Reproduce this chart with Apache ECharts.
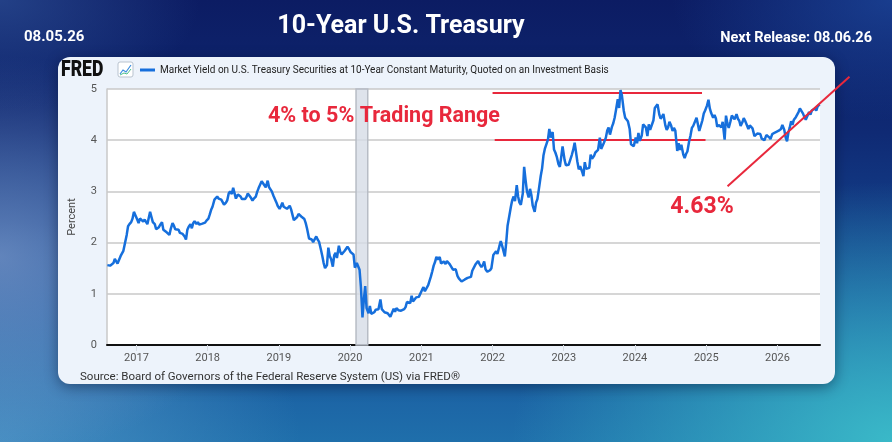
<!DOCTYPE html>
<html>
<head>
<meta charset="utf-8">
<script src="https://cdn.jsdelivr.net/npm/echarts@6/dist/echarts.min.js"></script>
<style>
    html, body { margin: 0; padding: 0; }
    body {
        width: 892px; height: 442px; overflow: hidden;
        background:
            radial-gradient(ellipse 200px 110px at 0% 0%, rgba(45,80,150,0.7), rgba(45,80,150,0)),
            radial-gradient(ellipse 220px 120px at 100% 0%, rgba(30,75,160,0.7), rgba(30,75,160,0)),
            radial-gradient(ellipse 260px 200px at 0% 58%, rgba(120,150,200,0.75), rgba(120,150,200,0)),
            radial-gradient(ellipse 380px 260px at 100% 100%, #3ab9c8, rgba(58,185,200,0)),
            radial-gradient(ellipse 300px 220px at 0% 100%, rgba(80,150,200,0.8), rgba(80,150,200,0)),
            linear-gradient(180deg, #0c1c63 0%, #0f2a74 30%, #17509a 70%, #1f6fab 100%);
    }
    #chart { width: 892px; height: 442px; }
</style>
</head>
<body>
<div id="chart"></div>
<script>
    // 10-year treasury, weekly readings (days 5/12/19/26 of each month)
    var months = ['2016-08', '2016-09', '2016-10', '2016-11', '2016-12',
        '2017-01', '2017-02', '2017-03', '2017-04', '2017-05', '2017-06', '2017-07', '2017-08', '2017-09', '2017-10', '2017-11', '2017-12',
        '2018-01', '2018-02', '2018-03', '2018-04', '2018-05', '2018-06', '2018-07', '2018-08', '2018-09', '2018-10', '2018-11', '2018-12',
        '2019-01', '2019-02', '2019-03', '2019-04', '2019-05', '2019-06', '2019-07', '2019-08', '2019-09', '2019-10', '2019-11', '2019-12',
        '2020-01', '2020-02', '2020-03', '2020-04', '2020-05', '2020-06', '2020-07', '2020-08', '2020-09', '2020-10', '2020-11', '2020-12',
        '2021-01', '2021-02', '2021-03', '2021-04', '2021-05', '2021-06', '2021-07', '2021-08', '2021-09', '2021-10', '2021-11', '2021-12',
        '2022-01', '2022-02', '2022-03', '2022-04', '2022-05', '2022-06', '2022-07', '2022-08', '2022-09', '2022-10', '2022-11', '2022-12',
        '2023-01', '2023-02', '2023-03', '2023-04', '2023-05', '2023-06', '2023-07', '2023-08', '2023-09', '2023-10', '2023-11', '2023-12',
        '2024-01', '2024-02', '2024-03', '2024-04', '2024-05', '2024-06', '2024-07', '2024-08', '2024-09', '2024-10', '2024-11', '2024-12',
        '2025-01', '2025-02', '2025-03', '2025-04', '2025-05', '2025-06', '2025-07', '2025-08', '2025-09', '2025-10', '2025-11', '2025-12',
        '2026-01', '2026-02', '2026-03', '2026-04', '2026-05', '2026-06', '2026-07', '2026-08'];
    var weekDays = [5, 12, 19, 26];
    var yields = [
        [1.56, 1.54, 1.55, 1.58], [1.60, 1.68, 1.69, 1.59], [1.61, 1.74, 1.76, 1.84], [1.83, 2.15, 2.32, 2.36], [2.40, 2.47, 2.60, 2.54],
        [2.45, 2.38, 2.47, 2.49], [2.41, 2.45, 2.42, 2.36], [2.48, 2.60, 2.50, 2.40], [2.36, 2.26, 2.24, 2.30], [2.36, 2.40, 2.25, 2.25], [2.20, 2.17, 2.15, 2.27],
        [2.38, 2.33, 2.26, 2.29], [2.25, 2.19, 2.20, 2.17], [2.12, 2.06, 2.25, 2.31], [2.36, 2.28, 2.38, 2.42], [2.36, 2.40, 2.35, 2.38], [2.37, 2.40, 2.39, 2.43],
        [2.47, 2.55, 2.64, 2.70], [2.84, 2.86, 2.90, 2.86], [2.86, 2.84, 2.83, 2.74], [2.78, 2.83, 2.96, 3.00], [2.95, 3.07, 3.06, 2.86], [2.94, 2.92, 2.90, 2.85],
        [2.83, 2.85, 2.89, 2.96], [2.95, 2.87, 2.82, 2.86], [2.90, 2.99, 3.06, 3.06], [3.20, 3.16, 3.17, 3.08], [3.21, 3.08, 3.06, 3.00], [2.91, 2.89, 2.79, 2.72],
        [2.66, 2.71, 2.78, 2.70], [2.72, 2.66, 2.65, 2.72], [2.65, 2.62, 2.44, 2.41], [2.50, 2.56, 2.56, 2.51], [2.53, 2.46, 2.38, 2.27], [2.08, 2.09, 2.06, 2.01],
        [2.04, 2.12, 2.06, 2.02], [1.86, 1.74, 1.60, 1.50], [1.56, 1.90, 1.74, 1.68], [1.53, 1.75, 1.80, 1.70], [1.94, 1.82, 1.77, 1.78], [1.84, 1.82, 1.92, 1.88],
        [1.81, 1.84, 1.77, 1.51], [1.60, 1.59, 1.47, 1.13], [0.54, 0.88, 1.15, 0.72], [0.62, 0.76, 0.61, 0.64], [0.64, 0.69, 0.68, 0.70], [0.89, 0.70, 0.69, 0.64],
        [0.67, 0.62, 0.59, 0.55], [0.56, 0.71, 0.65, 0.72], [0.68, 0.67, 0.67, 0.68], [0.70, 0.74, 0.84, 0.83], [0.82, 0.96, 0.85, 0.88], [0.93, 0.91, 0.94, 0.93],
        [1.08, 1.13, 1.05, 1.07], [1.17, 1.20, 1.34, 1.44], [1.55, 1.62, 1.72, 1.67], [1.72, 1.59, 1.56, 1.63], [1.58, 1.64, 1.63, 1.58], [1.55, 1.47, 1.44, 1.48],
        [1.35, 1.30, 1.28, 1.24], [1.22, 1.28, 1.25, 1.31], [1.34, 1.33, 1.45, 1.48], [1.57, 1.59, 1.64, 1.58], [1.52, 1.56, 1.63, 1.48], [1.43, 1.43, 1.46, 1.50],
        [1.76, 1.74, 1.83, 1.78], [1.93, 2.03, 1.94, 1.96], [1.73, 2.00, 2.33, 2.48], [2.70, 2.83, 2.90, 2.81], [3.12, 2.90, 2.78, 2.74], [2.96, 3.48, 3.23, 3.01],
        [2.88, 3.05, 2.93, 2.72], [2.60, 2.78, 2.85, 3.03], [3.30, 3.45, 3.70, 3.83], [3.83, 4.01, 4.22, 4.05], [4.16, 3.82, 3.76, 3.68], [3.53, 3.48, 3.67, 3.88],
        [3.62, 3.51, 3.48, 3.52], [3.53, 3.72, 3.82, 3.95], [3.97, 3.58, 3.43, 3.49], [3.39, 3.30, 3.57, 3.44], [3.45, 3.46, 3.72, 3.64], [3.69, 3.76, 3.74, 3.81],
        [4.05, 3.83, 3.84, 3.95], [4.05, 4.19, 4.25, 4.11], [4.26, 4.33, 4.44, 4.59], [4.80, 4.63, 4.98, 4.88], [4.57, 4.44, 4.41, 4.37], [4.22, 3.92, 3.90, 3.88],
        [4.05, 3.94, 4.14, 3.99], [4.09, 4.31, 4.28, 4.25], [4.08, 4.31, 4.20, 4.20], [4.39, 4.63, 4.62, 4.70], [4.50, 4.42, 4.46, 4.51], [4.29, 4.20, 4.25, 4.36],
        [4.28, 4.18, 4.24, 4.19], [3.79, 3.94, 3.81, 3.91], [3.72, 3.65, 3.73, 3.78], [3.98, 4.09, 4.24, 4.28], [4.30, 4.44, 4.41, 4.18], [4.19, 4.39, 4.52, 4.58],
        [4.68, 4.79, 4.62, 4.53], [4.44, 4.49, 4.43, 4.26], [4.30, 4.31, 4.25, 4.36], [4.01, 4.48, 4.33, 4.24], [4.37, 4.48, 4.51, 4.41], [4.51, 4.42, 4.38, 4.28],
        [4.35, 4.43, 4.38, 4.37], [4.22, 4.29, 4.26, 4.23], [4.08, 4.06, 4.13, 4.16], [4.12, 4.03, 4.00, 4.00], [4.10, 4.10, 4.06, 4.02], [4.12, 4.15, 4.15, 4.18],
        [4.18, 4.17, 4.22, 4.30], [4.20, 4.05, 3.98, 4.15], [4.25, 4.37, 4.30, 4.40], [4.45, 4.50, 4.55, 4.62], [4.64, 4.52, 4.45, 4.40], [4.42, 4.55, 4.50, 4.58],
        [4.60, 4.62, 4.58, 4.66], [4.70]
    ];
    var yearTicks = ['2017-01-01', '2018-01-01', '2019-01-01', '2020-01-01', '2021-01-01',
        '2022-01-01', '2023-01-01', '2024-01-01', '2025-01-01', '2026-01-01'];
    var recession = ['2020-02-01', '2020-04-01'];
    // annotation lines [start date, start value, end date, end value]
    var rangeTop = ['2022-01-01', 4.92, '2024-12-10', 4.92];
    var rangeBottom = ['2022-01-12', 4.01, '2024-12-28', 4.01];
    var trendLine = ['2025-04-20', 3.10, '2027-01-05', 5.24];

    var seriesName = 'Market Yield on U.S. Treasury Securities at 10-Year Constant Maturity, Quoted on an Investment Basis';
    var red = '#e8283c';

    function ts(s) {
        return +new Date(s + 'T00:00:00Z');
    }
    function pad(n) {
        return n < 10 ? '0' + n : '' + n;
    }
    var points = [];
    for (var i = 0; i < months.length; i++) {
        for (var j = 0; j < yields[i].length; j++) {
            points.push([ts(months[i] + '-' + pad(weekDays[j])), yields[i][j]]);
        }
    }
    function seg(a) {
        return [{ coord: [ts(a[0]), a[1]] }, { coord: [ts(a[2]), a[3]] }];
    }
    var tickValues = yearTicks.map(ts);

    var chart = echarts.init(document.getElementById('chart'), null, { renderer: 'canvas' });
    var option = {
        backgroundColor: 'transparent',
        animation: false,
        textStyle: { fontFamily: 'Roboto, "Noto Sans", sans-serif' },
        grid: {
            left: 107, right: 72, top: 89, bottom: 97,
            show: true, backgroundColor: '#ffffff', borderWidth: 0
        },
        legend: {
            left: 140, top: 65, padding: 0,
            icon: 'rect', itemWidth: 15, itemHeight: 3, itemGap: 4,
            textStyle: { fontSize: 10, color: '#222' },
            data: [seriesName]
        },
        xAxis: {
            type: 'value',
            min: ts('2016-08-03'),
            max: ts('2026-08-07'),
            axisLine: { show: true, onZero: false, lineStyle: { color: '#111', width: 2 } },
            axisTick: { show: true, customValues: tickValues, length: 6, lineStyle: { color: '#d5dbe3' } },
            splitLine: { show: false },
            axisLabel: {
                customValues: tickValues,
                formatter: function (v) { return '' + new Date(v).getUTCFullYear(); },
                color: '#555', fontSize: 11, margin: 8
            }
        },
        yAxis: {
            type: 'value',
            min: 0, max: 5, interval: 1,
            name: 'Percent', nameLocation: 'middle', nameGap: 29,
            nameTextStyle: { color: '#444', fontSize: 11 },
            axisLine: { show: true, lineStyle: { color: '#c9c9c9', width: 1.5 } },
            axisTick: { show: false },
            axisLabel: { color: '#555', fontSize: 11, margin: 10 },
            splitLine: { lineStyle: { color: '#c9c9c9', width: 1.5 } }
        },
        series: [{
            name: seriesName,
            type: 'line',
            data: points,
            showSymbol: false,
            z: 5,
            lineStyle: { color: '#166fdc', width: 2.5 },
            itemStyle: { color: '#166fdc' },
            markArea: {
                silent: true,
                itemStyle: { color: 'rgba(214,220,230,0.8)', borderColor: '#b7bcc5', borderWidth: 1.5 },
                data: [[{ xAxis: ts(recession[0]) }, { xAxis: ts(recession[1]) }]]
            },
            markLine: {
                silent: true,
                symbol: 'none',
                label: { show: false },
                lineStyle: { color: red, width: 2, type: 'solid' },
                data: [seg(rangeTop), seg(rangeBottom)]
            }
        }],
        graphic: [
            {
                type: 'rect', z: -10,
                shape: { x: 58, y: 57, width: 777, height: 327, r: 12 },
                style: { fill: '#edf3fb', shadowBlur: 14, shadowColor: 'rgba(0,10,40,0.45)', shadowOffsetY: 3 }
            },
            {
                type: 'text', z: 10,
                style: { text: '10-Year U.S. Treasury', x: 401, y: 27, align: 'center', verticalAlign: 'middle',
                    fill: '#ffffff', font: 'bold 25px Roboto, sans-serif' }
            },
            {
                type: 'text', z: 10,
                style: { text: '08.05.26', x: 24, y: 37, align: 'left', verticalAlign: 'middle',
                    fill: '#ffffff', font: 'bold 15px Roboto, sans-serif' }
            },
            {
                type: 'text', z: 10,
                style: { text: 'Next Release: 08.06.26', x: 872, y: 38, align: 'right', verticalAlign: 'middle',
                    fill: '#ffffff', font: 'bold 14.5px Roboto, sans-serif' }
            },
            {
                // FRED logo, squeezed to the logo's width
                type: 'text', z: 10, x: 61, y: 70, scaleX: 0.8,
                style: { text: 'FRED', x: 0, y: 0, align: 'left', verticalAlign: 'middle',
                    fill: '#111111', font: '900 22px Roboto, sans-serif' }
            },
            {
                type: 'rect', z: 10,
                shape: { x: 118, y: 62, width: 15, height: 15, r: 2 },
                style: { fill: '#ffffff', stroke: '#b9c3cf', lineWidth: 1 }
            },
            {
                type: 'polyline', z: 11,
                shape: { points: [[120, 74], [123, 70], [126, 72], [131, 65]] },
                style: { stroke: '#3a8de0', lineWidth: 1.2, fill: null }
            },
            {
                type: 'polyline', z: 11,
                shape: { points: [[120, 75], [124, 73], [127, 74], [131, 69]] },
                style: { stroke: '#4cbf8a', lineWidth: 1, fill: null }
            },
            {
                type: 'text', z: 20,
                style: { text: '4% to 5% Trading Range', x: 384, y: 117, align: 'center', verticalAlign: 'middle',
                    fill: red, font: 'bold 21.5px Roboto, sans-serif' }
            },
            {
                type: 'text', z: 20,
                style: { text: '4.63%', x: 702, y: 207, align: 'center', verticalAlign: 'middle',
                    fill: red, font: 'bold 23px Roboto, sans-serif' }
            },
            {
                type: 'text', z: 10,
                style: { text: 'Source: Board of Governors of the Federal Reserve System (US) via FRED®', x: 80, y: 377,
                    align: 'left', verticalAlign: 'middle', fill: '#333333', font: '11.5px Roboto, sans-serif' }
            }
        ]
    };
    chart.setOption(option);

    // trend line runs past the plot edge, so place it through the axes scale after layout
    var p1 = chart.convertToPixel({ gridIndex: 0 }, [ts(trendLine[0]), trendLine[1]]);
    var p2 = chart.convertToPixel({ gridIndex: 0 }, [ts(trendLine[2]), trendLine[3]]);
    chart.setOption({
        graphic: [{
            id: 'trend', type: 'line', z: 20,
            shape: { x1: p1[0], y1: p1[1], x2: p2[0], y2: p2[1] },
            style: { stroke: red, lineWidth: 2 }
        }]
    });
</script>
</body>
</html>
